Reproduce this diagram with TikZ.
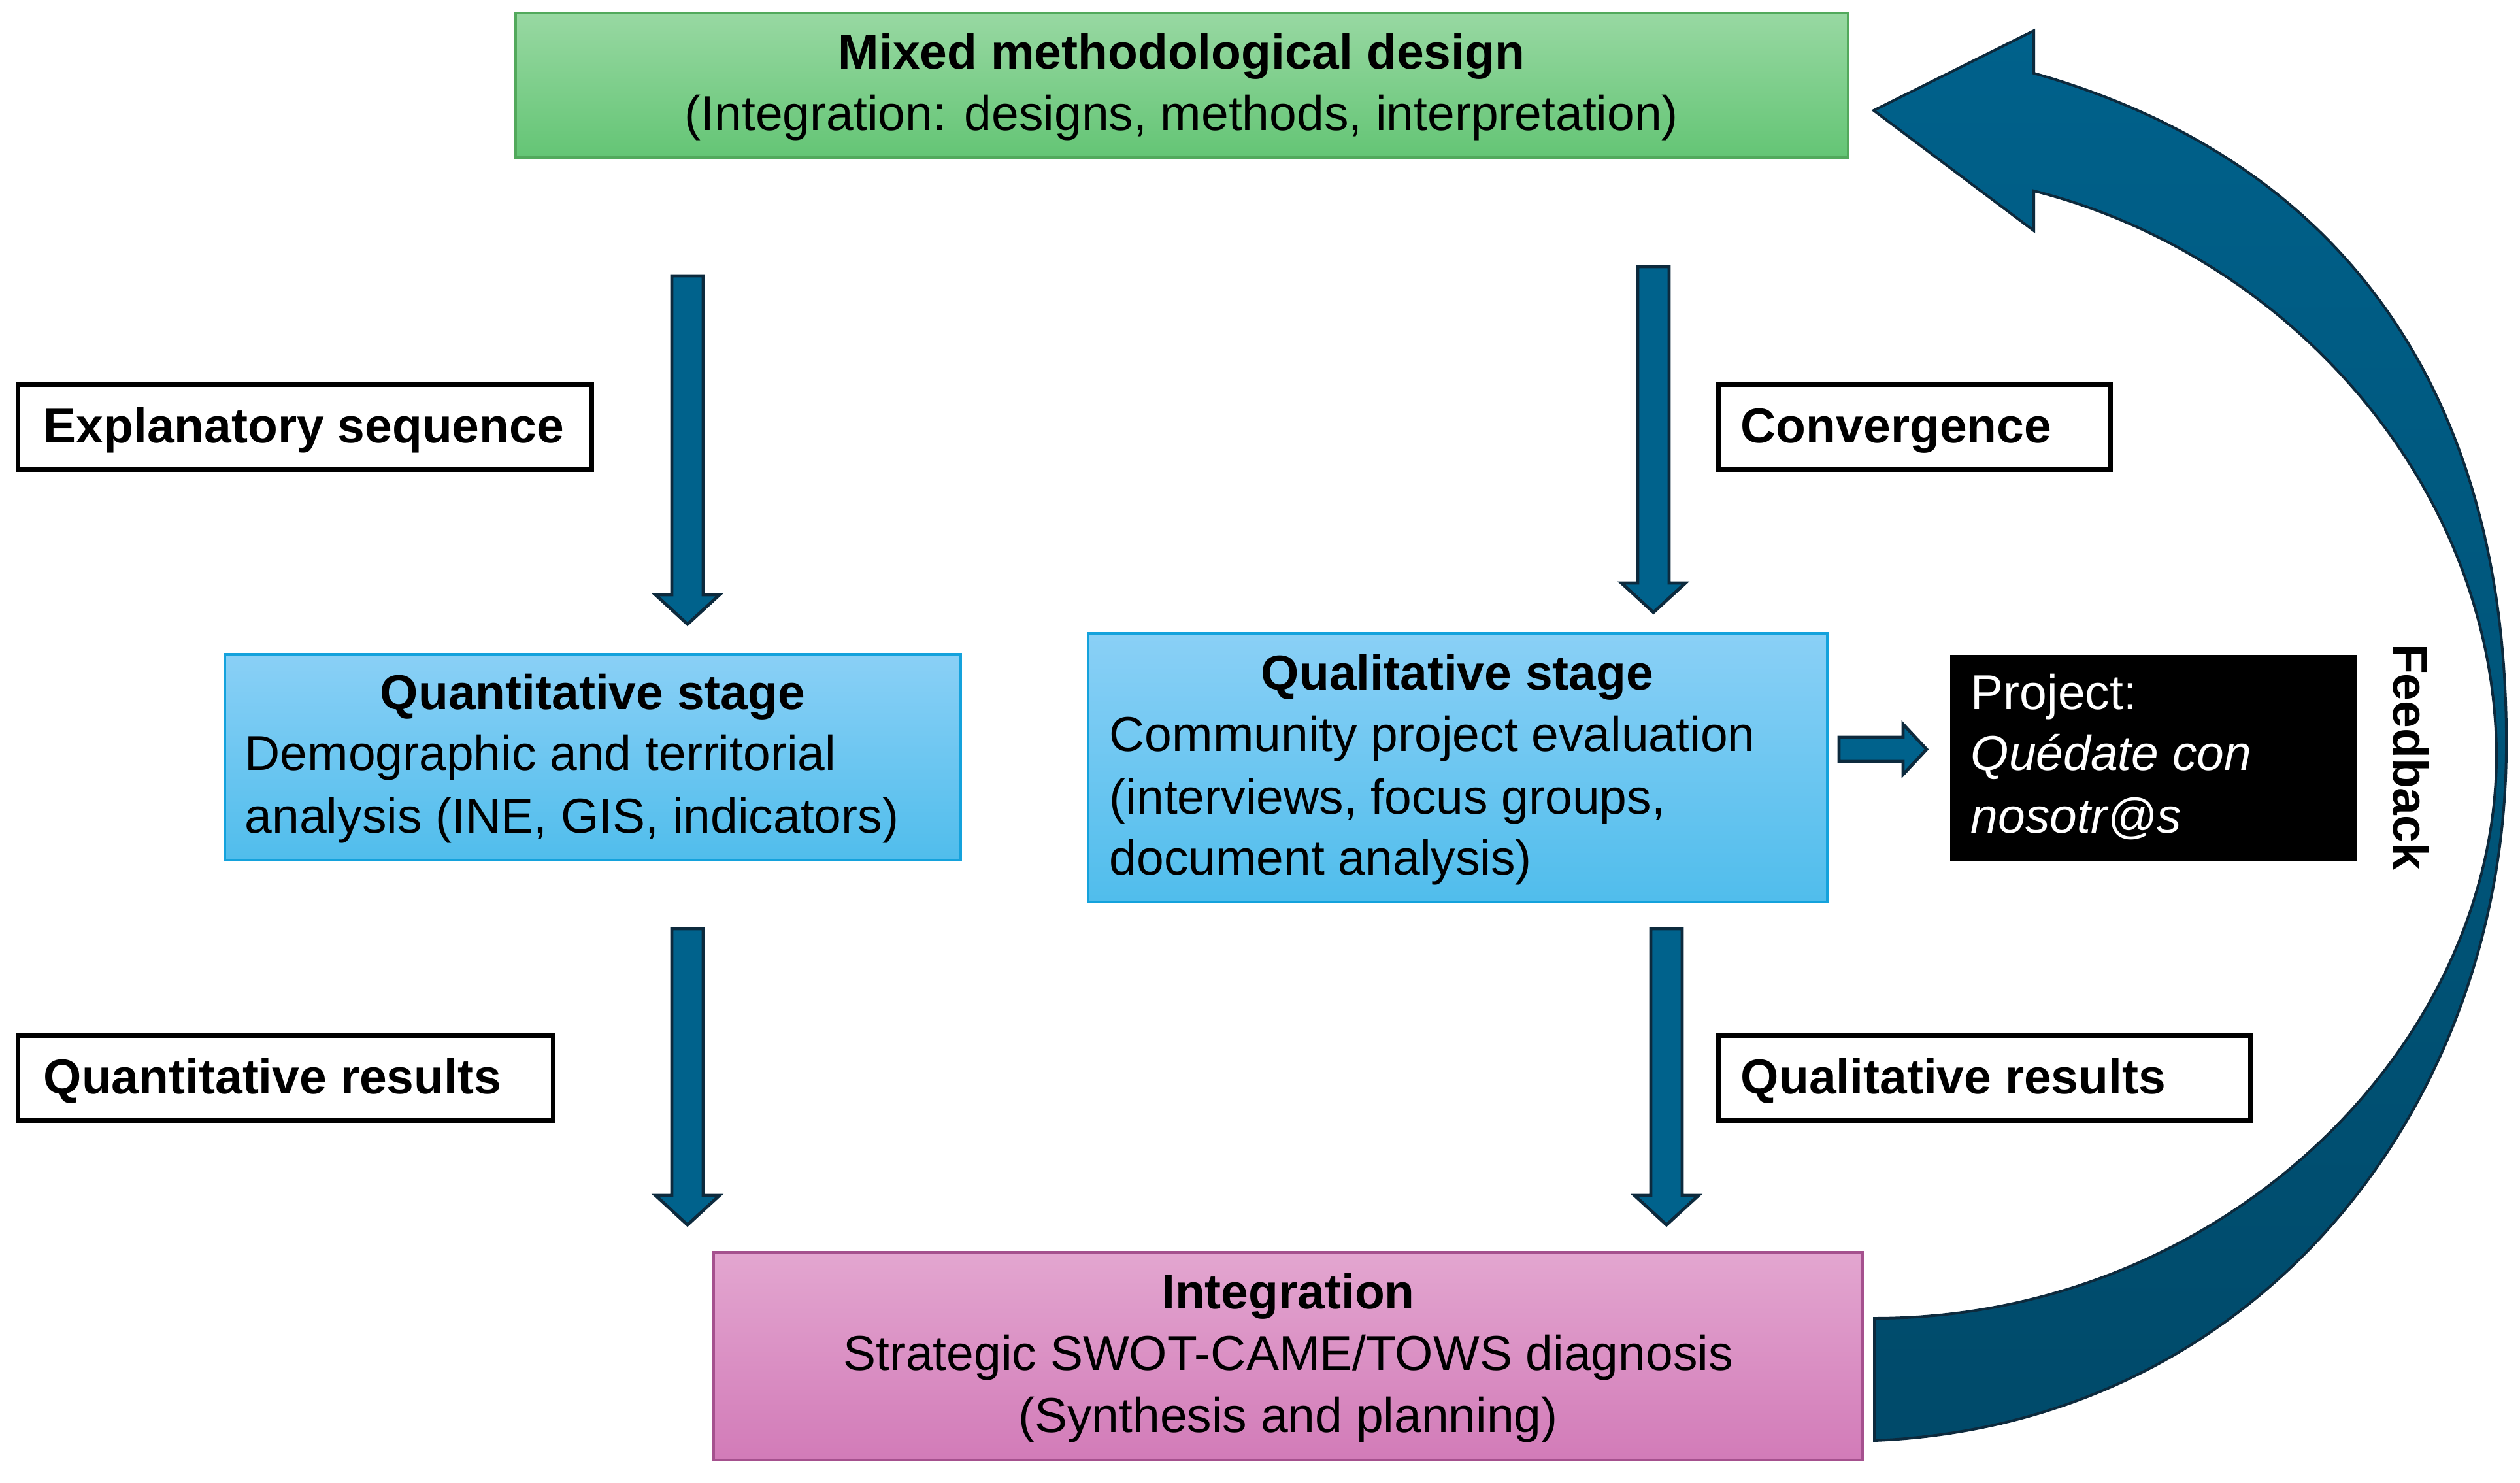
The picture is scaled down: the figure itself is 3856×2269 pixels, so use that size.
\documentclass[tikz,border=0pt]{standalone}
\usepackage{fontspec}
\setmainfont{Liberation Sans}
\definecolor{greenTop}{HTML}{98D8A2}
\definecolor{greenBot}{HTML}{64C575}
\definecolor{greenEdge}{HTML}{52A95C}
\definecolor{blueTop}{HTML}{8AD0F6}
\definecolor{blueBot}{HTML}{50BDEC}
\definecolor{blueEdge}{HTML}{14A2DC}
\definecolor{pinkTop}{HTML}{E3A6D0}
\definecolor{pinkBot}{HTML}{D27BB8}
\definecolor{pinkEdge}{HTML}{A5518E}
\definecolor{arrowFill}{HTML}{00628C}
\definecolor{arrowEdge}{HTML}{0D2A3D}
\definecolor{bigTop}{HTML}{00618B}
\definecolor{bigBot}{HTML}{004A6A}
\tikzset{
  boxbase/.style={anchor=north west, inner sep=0pt, outer sep=0pt},
  greenbox/.style={boxbase, draw=greenEdge, line width=1pt, top color=greenTop, bottom color=greenBot},
  bluebox/.style={boxbase, draw=blueEdge, line width=1pt, top color=blueTop, bottom color=blueBot},
  pinkbox/.style={boxbase, draw=pinkEdge, line width=1pt, top color=pinkTop, bottom color=pinkBot},
  blackbox/.style={boxbase, draw=black, fill=black},
  labelbox/.style={boxbase, draw=black, line width=1.75pt, fill=white, minimum height=32.5pt},
  txt/.style={inner sep=0pt, font=\fontsize{18.75}{22.5}\selectfont},
  btxt/.style={txt, font=\fontsize{18.75}{22.5}\selectfont\bfseries},
  blockarrow/.style={fill=arrowFill, draw=arrowEdge, line width=1.2pt, line join=miter},
  bigarrow/.style={top color=bigTop, bottom color=bigBot, draw=arrowEdge, line width=1pt, line join=miter}
}
\newcommand\BlockDown[3]{%
  \draw[blockarrow] (#1-24,#2) -- (#1+24,#2) -- (#1+24,#3-45) -- (#1+49,#3-45)
    -- (#1,#3) -- (#1-49,#3-45) -- (#1-24,#3-45) -- cycle;}
\begin{document}
\begin{tikzpicture}[x=0.25pt,y=-0.25pt]
\useasboundingbox (0,0) rectangle (3856,2269);

% big feedback arrow
\draw[bigarrow] (2868,2204) .. controls (3450,2180) and (3830,1700) .. (3835,1150)
  .. controls (3840,620) and (3600,250) .. (3112,112)
  -- (3112,47) -- (2867,169) -- (3112,353) -- (3112,292)
  .. controls (3500,390) and (3815,740) .. (3820,1150)
  .. controls (3823,1600) and (3400,2017) .. (2868,2017) -- cycle;

% main boxes
\node[greenbox, minimum width=509.75pt, minimum height=55.25pt] (mixed) at (789,20) {};
\node[bluebox, minimum width=281.5pt, minimum height=78.75pt] (quant) at (344,1001) {};
\node[bluebox, minimum width=282.75pt, minimum height=102.75pt] (qual) at (1665,969) {};
\node[blackbox, minimum width=155pt, minimum height=78.25pt] (proj) at (2985,1003) {};
\node[pinkbox, minimum width=439.5pt, minimum height=79.5pt] (integ) at (1092,1916) {};

% label boxes
\node[labelbox, minimum width=219.5pt] (expl) at (27,588) {};
\node[labelbox, minimum width=150pt] (conv) at (2629,588) {};
\node[labelbox, minimum width=204.75pt] (qtres) at (27,1584) {};
\node[labelbox, minimum width=203.5pt] (qlres) at (2629,1584) {};

% texts: mixed
\node[btxt, anchor=base] (mixedA) at (1808,106) {Mixed methodological design};
\node[txt, anchor=base] (mixedB) at (1808,200) {(Integration: designs, methods, interpretation)};
% quantitative stage
\node[btxt, anchor=base] (quantA) at (907,1085) {Quantitative stage};
\node[txt, anchor=base west] (quantB) at (374,1178) {Demographic and territorial};
\node[txt, anchor=base west] (quantC) at (374,1274) {analysis (INE, GIS, indicators)};
% qualitative stage
\node[btxt, anchor=base] (qualA) at (2230,1055) {Qualitative stage};
\node[txt, anchor=base west] (qualB) at (1697,1149) {Community project evaluation};
\node[txt, anchor=base west] (qualC) at (1697,1245) {(interviews, focus groups,};
\node[txt, anchor=base west] (qualD) at (1697,1338) {document analysis)};
% project
\node[txt, text=white, anchor=base west] (projA) at (3015,1085) {Project:};
\node[txt, text=white, anchor=base west, font=\fontsize{18.75}{22.5}\selectfont\itshape] (projB) at (3015,1178) {Quédate con};
\node[txt, text=white, anchor=base west, font=\fontsize{18.75}{22.5}\selectfont\itshape] (projC) at (3015,1274) {nosotr@s};
% integration
\node[btxt, anchor=base] (integA) at (1971,2002) {Integration};
\node[txt, anchor=base] (integB) at (1971,2096) {Strategic SWOT-CAME/TOWS diagnosis};
\node[txt, anchor=base] (integC) at (1971,2191) {(Synthesis and planning)};
% labels
\node[btxt, anchor=base west] (explT) at (66,677) {Explanatory sequence};
\node[btxt, anchor=base west] (convT) at (2663,677) {Convergence};
\node[btxt, anchor=base west] (qtresT) at (66,1673) {Quantitative results};
\node[btxt, anchor=base west] (qlresT) at (2663,1673) {Qualitative results};
% feedback
\node[btxt, rotate=-90] (fb) at (3689,1158) {Feedback};

% block arrows
\BlockDown{1052}{422}{955}
\BlockDown{2530}{408}{937}
\BlockDown{1052}{1421}{1874}
\BlockDown{2550}{1421}{1874}
\draw[blockarrow] (2814,1128) -- (2912,1128) -- (2912,1108) -- (2948,1146.5)
  -- (2912,1185) -- (2912,1165) -- (2814,1165) -- cycle;
\end{tikzpicture}
\end{document}
